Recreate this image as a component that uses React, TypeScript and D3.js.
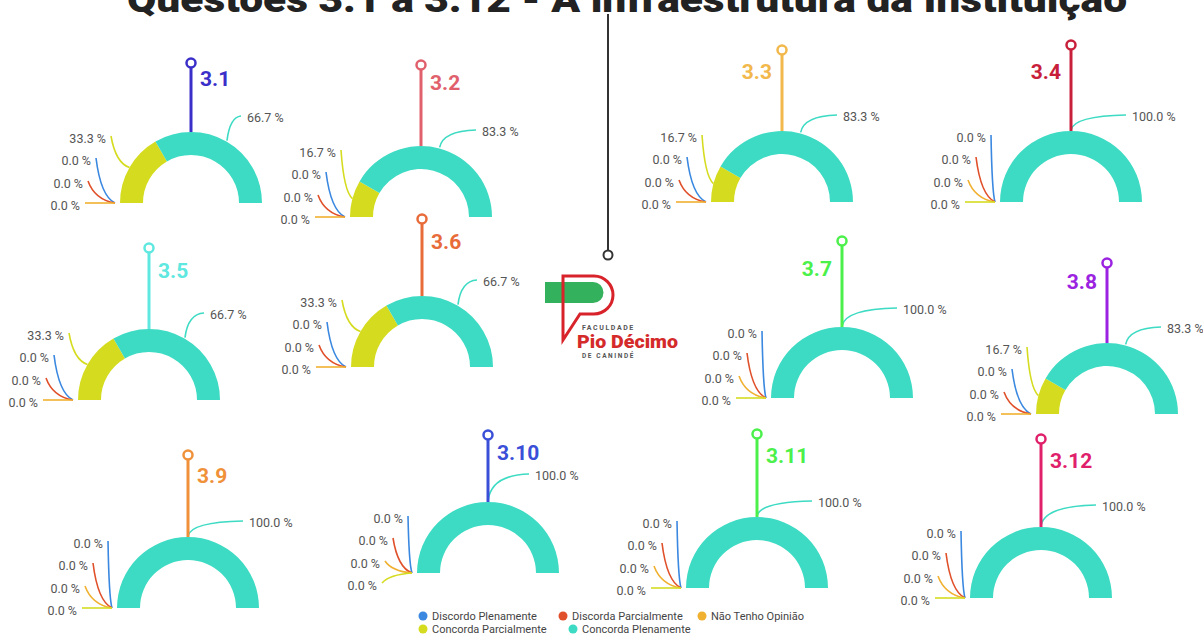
import React, { useEffect, useRef } from "react";
import * as d3 from "d3";

// categories, left to right along every half-donut
const categories = [
  "Discordo Plenamente",
  "Discorda Parcialmente",
  "Não Tenho Opinião",
  "Concorda Parcialmente",
  "Concorda Plenamente",
];
const catColors = ["#3a88e0", "#e0502a", "#f0b030", "#d5dc20", "#3ddbc3"];

const questions = ["3.1", "3.2", "3.3", "3.4", "3.5", "3.6", "3.7", "3.8", "3.9", "3.10", "3.11", "3.12"];
const questionColors = [
  "#3b2fc9", "#e0606c", "#f2b84b", "#c8203a", "#5ee8e0", "#e86b3a",
  "#4cf04a", "#9b22e0", "#f0913a", "#3a4fd8", "#4cf04a", "#e0206a",
];

// percentages per question, same order as categories
const q31 = [0, 0, 0, 33.3, 66.7];
const q32 = [0, 0, 0, 16.7, 83.3];
const q33 = [0, 0, 0, 16.7, 83.3];
const q34 = [0, 0, 0, 0, 100];
const q35 = [0, 0, 0, 33.3, 66.7];
const q36 = [0, 0, 0, 33.3, 66.7];
const q37 = [0, 0, 0, 0, 100];
const q38 = [0, 0, 0, 16.7, 83.3];
const q39 = [0, 0, 0, 0, 100];
const q310 = [0, 0, 0, 0, 100];
const q311 = [0, 0, 0, 0, 100];
const q312 = [0, 0, 0, 0, 100];
const values = [q31, q32, q33, q34, q35, q36, q37, q38, q39, q310, q311, q312];

const title = "Questões 3.1 à 3.12 - A infraestrutura da Instituição";

// layout of the small multiples (centre x, baseline y, needle top y, side of number)
type Slot = {
  cx: number; base: number; top: number; side: "L" | "R"; ny: number;
  rdx?: number; rdy?: number; ldy?: number;
};
const slots: Slot[] = [
  { cx: 191, base: 203, top: 63, side: "R", ny: 23, rdx: 56 },
  { cx: 421, base: 217, top: 65, side: "R", ny: 25 },
  { cx: 782, base: 202, top: 50, side: "L", ny: 29 },
  { cx: 1071, base: 202, top: 45, side: "L", ny: 34 },
  { cx: 149, base: 400, top: 248, side: "R", ny: 30 },
  { cx: 422, base: 367, top: 219, side: "R", ny: 30 },
  { cx: 842, base: 398, top: 241, side: "L", ny: 35, rdy: -88 },
  { cx: 1107, base: 414, top: 263, side: "L", ny: 26, rdx: 60 },
  { cx: 188, base: 608, top: 455, side: "R", ny: 28 },
  { cx: 488, base: 573, top: 435, side: "R", ny: 25, rdx: 47, rdy: -97, ldy: 10 },
  { cx: 757, base: 588, top: 434, side: "R", ny: 29 },
  { cx: 1041, base: 598, top: 439, side: "R", ny: 29, rdy: -91 },
];

const leftSlots = [
  [-85, -64],
  [-100, -42],
  [-108, -19],
  [-111, 3],
];

const R_OUT = 71;
const R_IN = 48;

const App = () => {
  const ref = useRef<SVGSVGElement>(null);

  useEffect(() => {
    if (!ref.current) return;
    const svg = d3.select(ref.current);
    svg.selectAll("*").remove();

    const pie = d3
      .pie<number>()
      .sort(null)
      .startAngle(-Math.PI / 2)
      .endAngle(Math.PI / 2)
      .value((d) => d);
    const arc = d3.arc<d3.PieArcDatum<number>>().innerRadius(R_IN).outerRadius(R_OUT);
    const fmt = d3.format(".1f");

    // title, pushed mostly off the top edge
    svg
      .append("text")
      .attr("x", 627)
      .attr("y", 12)
      .attr("text-anchor", "middle")
      .attr("font-family", "Roboto, sans-serif")
      .attr("font-weight", 900)
      .attr("font-size", 36)
      .attr("textLength", 1000)
      .attr("lengthAdjust", "spacingAndGlyphs")
      .attr("fill", "#222")
      .text(title);

    // hanging pin for the logo
    svg.append("line").attr("x1", 608).attr("x2", 608).attr("y1", 14).attr("y2", 250)
      .attr("stroke", "#333").attr("stroke-width", 2);
    svg.append("circle").attr("cx", 608).attr("cy", 255).attr("r", 4.5)
      .attr("fill", "#fff").attr("stroke", "#333").attr("stroke-width", 2);

    // logo
    const logo = svg.append("g");
    logo.append("path").attr("d", "M545,282 H593 A10.5,10.5 0 0 1 593,303 H545 Z").attr("fill", "#33b15c");
    logo
      .append("path")
      .attr("d", "M563,340 L563,276 L594,276 A19,19 0 0 1 594,314 L580,314 Z")
      .attr("fill", "none")
      .attr("stroke", "#d8232a")
      .attr("stroke-width", 3)
      .attr("stroke-linejoin", "miter");
    logo.append("text").attr("x", 582).attr("y", 330).attr("font-family", "Roboto, sans-serif")
      .attr("font-weight", 700).attr("font-size", 7).attr("letter-spacing", 1.6).attr("fill", "#555").text("FACULDADE");
    logo.append("text").attr("x", 577).attr("y", 348).attr("font-family", "Roboto, sans-serif")
      .attr("font-weight", 900).attr("font-size", 19).attr("textLength", 101).attr("lengthAdjust", "spacingAndGlyphs")
      .attr("fill", "#d42a2a").text("Pio Décimo");
    logo.append("text").attr("x", 582).attr("y", 358).attr("font-family", "Roboto, sans-serif")
      .attr("font-weight", 700).attr("font-size", 6.5).attr("letter-spacing", 1.6).attr("fill", "#555").text("DE CANINDÉ");

    questions.forEach((q, qi) => {
      const s = slots[qi];
      const vals = values[qi];
      const arcs = pie(vals);
      const g = svg.append("g");

      // leader lines + labels on the left: non-zero ones first
      const leftIdx = [0, 1, 2, 3].sort((a, b) => (vals[b] > 0 ? 1 : 0) - (vals[a] > 0 ? 1 : 0));
      leftIdx.forEach((ci, k) => {
        const a = arcs[ci];
        const mid = (a.startAngle + a.endAngle) / 2;
        let px = s.cx + R_OUT * Math.sin(mid);
        let py = s.base - R_OUT * Math.cos(mid);
        if (vals[ci] === 0) {
          px -= 5;
          py = s.base;
        }
        const lx = s.cx + leftSlots[k][0];
        const ly = s.base + leftSlots[k][1] + (s.ldy || 0);
        const sx = lx + 5;
        const sy = ly - 3;
        const path = d3.path();
        path.moveTo(sx, sy);
        path.quadraticCurveTo(sx + (px - sx) * 0.25, py - (py - sy) * 0.15, px, py);
        g.append("path").attr("d", path.toString()).attr("fill", "none")
          .attr("stroke", catColors[ci]).attr("stroke-width", 1.6);
        g.append("text").attr("x", lx).attr("y", ly).attr("dy", "0.35em").attr("text-anchor", "end")
          .attr("font-family", "Roboto, sans-serif").attr("font-size", 12.5).attr("fill", "#555")
          .text(`${fmt(vals[ci])} %`);
      });

      {
        const a = arcs[4];
        const mid = (a.startAngle + a.endAngle) / 2;
        const px = s.cx + (R_OUT + 1) * Math.sin(mid);
        const py = s.base - (R_OUT + 1) * Math.cos(mid);
        const lx = s.cx + (s.rdx ?? 61);
        const ly = s.base + (s.rdy ?? -85);
        const path = d3.path();
        path.moveTo(px, py);
        path.quadraticCurveTo(px + 3, ly - 1, lx - 6, ly - 2);
        g.append("path").attr("d", path.toString()).attr("fill", "none")
          .attr("stroke", catColors[4]).attr("stroke-width", 1.6);
        g.append("text").attr("x", lx).attr("y", ly).attr("dy", "0.35em")
          .attr("font-family", "Roboto, sans-serif").attr("font-size", 12.5).attr("fill", "#555")
          .text(`${fmt(vals[4])} %`);
      }

      // half donut
      g.append("g")
        .attr("transform", `translate(${s.cx},${s.base})`)
        .selectAll("path")
        .data(arcs.filter((d) => d.value > 0))
        .join("path")
        .attr("d", arc)
        .attr("fill", (d) => catColors[d.index]);

      // needle + number
      const col = questionColors[qi];
      g.append("line").attr("x1", s.cx).attr("x2", s.cx).attr("y1", s.base - R_OUT).attr("y2", s.top + 4)
        .attr("stroke", col).attr("stroke-width", 3);
      g.append("circle").attr("cx", s.cx).attr("cy", s.top).attr("r", 4.5)
        .attr("fill", "#fff").attr("stroke", col).attr("stroke-width", 2.5);
      g.append("text")
        .attr("x", s.side === "R" ? s.cx + 9 : s.cx - 10)
        .attr("y", s.top + s.ny)
        .attr("text-anchor", s.side === "R" ? "start" : "end")
        .attr("font-family", "Roboto, sans-serif")
        .attr("font-weight", 700)
        .attr("font-size", 21)
        .attr("fill", col)
        .text(q);
    });

    // legend
    const legendPos = [
      [423, 616],
      [563, 616],
      [702, 616],
      [423, 629],
      [573, 629],
    ];
    const lg = svg.append("g");
    categories.forEach((c, i) => {
      lg.append("circle").attr("cx", legendPos[i][0]).attr("cy", legendPos[i][1]).attr("r", 4.5).attr("fill", catColors[i]);
      lg.append("text").attr("x", legendPos[i][0] + 9).attr("y", legendPos[i][1]).attr("dy", "0.35em")
        .attr("font-family", "Roboto, sans-serif").attr("font-size", 11).attr("fill", "#444").text(c);
    });
  }, []);

  return (
    <svg
      ref={ref}
      width={1203}
      height={636}
      style={{ position: "absolute", left: 0, top: 0, background: "#fff" }}
    />
  );
};

export default App;
